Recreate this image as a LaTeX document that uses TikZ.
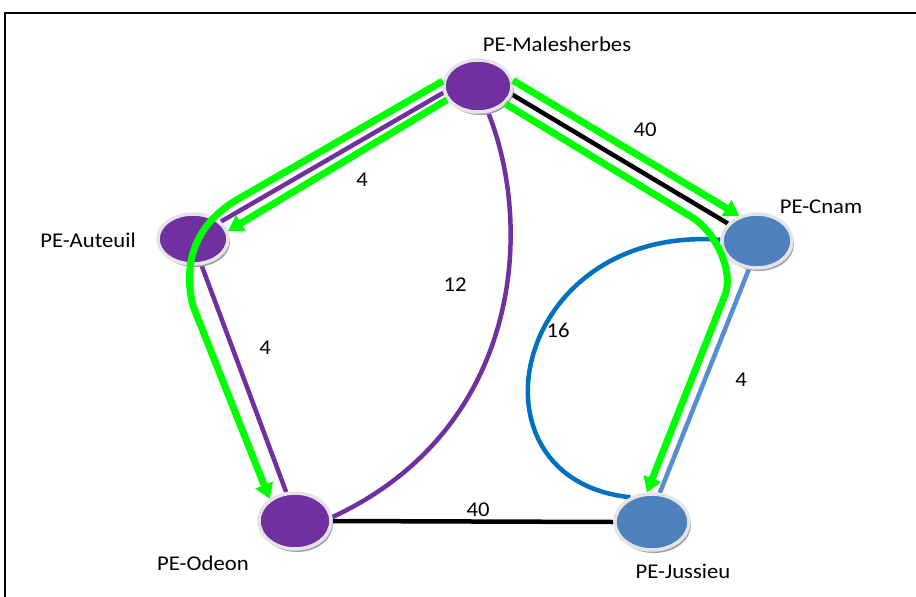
\documentclass[tikz,border=0pt]{standalone}
\usepackage{fontspec}
\setmainfont{Carlito}[FakeStretch=1.08]
\usetikzlibrary{shapes.geometric,arrows.meta,shadows}
\pgfdeclarelayer{edges}
\pgfsetlayers{edges,main}
\definecolor{pepurple}{HTML}{7030A0}
\definecolor{peblue}{HTML}{4F81BD}
\definecolor{pathgreen}{HTML}{00FF00}
\definecolor{arcblue}{HTML}{0070C0}
\definecolor{linkblue}{HTML}{558ED5}
\definecolor{shadowgray}{HTML}{9AA2B0}
\definecolor{rimgray}{HTML}{E4E4E8}
\tikzset{
  pe/.style={ellipse, draw=rimgray, line width=3.5pt, inner sep=0pt,
    minimum width=68pt, minimum height=52pt,
    drop shadow={shadow xshift=2pt, shadow yshift=-3pt, fill=shadowgray, opacity=1}},
  pepl/.style={pe, fill=pepurple},
  pebl/.style={pe, fill=peblue},
  pelabel/.style={font=\fontsize{21}{25}\selectfont, text=black},
  cost/.style={font=\fontsize{21}{25}\selectfont, text=black},
  link/.style={line width=4.5pt},
  route/.style={draw=pathgreen, line width=7pt,
    -{Triangle[length=15pt,width=18pt]}},
}
\begin{document}
\begin{tikzpicture}[x=1pt,y=-1pt]
\useasboundingbox (0,0) rectangle (916,597);

% routers
\node[pepl] (ms) at (478,86) {};
\node[pepl, minimum width=70pt, minimum height=50pt] (au) at (193,239) {};
\node[pebl, minimum width=70pt, minimum height=54pt] (cn) at (757,241) {};
\node[pepl, minimum width=72pt, minimum height=56pt] (od) at (295,521) {};
\node[pebl, minimum width=74pt, minimum height=56pt] (ju) at (652,522) {};

% router names
\node[pelabel] (nms) at (557,44) {PE-Malesherbes};
\node[pelabel] (nau) at (88,240) {PE-Auteuil};
\node[pelabel] (ncn) at (821,207) {PE-Cnam};
\node[pelabel] (nod) at (203,563) {PE-Odeon};
\node[pelabel] (nju) at (683,571) {PE-Jussieu};

% page, frame and links, all beneath the routers
\begin{pgfonlayer}{edges}
\fill[white] (0,0) rectangle (916,597);
\draw[line width=2pt] (5,597) -- (5,13) -- (916,13);
\draw[link, pepurple] (ms.191) -- (au.32);
\draw[link, pepurple] (au.288) -- (od.107);
\draw[link, pepurple] (ms.291) .. controls (535,230) and (520,430) .. (od.6);
\draw[link, black] (ms.346) -- (cn.149);
\draw[link, linkblue] (cn.254) -- (ju.75);
\draw[link, arcblue] (cn.178) .. controls (510,225) and (460,480) .. (ju.131);
\draw[link, black] (od.east) -- (ju.west);
\end{pgfonlayer}

% link costs
\node[cost] (c1) at (362,180) {4};
\node[cost] (c2) at (265,348) {4};
\node[cost] (c3) at (455,285) {12};
\node[cost] (c4) at (645,130) {40};
\node[cost] (c5) at (558,330) {16};
\node[cost] (c6) at (741,380) {4};
\node[cost] (c7) at (478,510) {40};

% routed paths
\draw[route] (ms.204) -- (au.13);
\draw[route] (ms.172) -- (240,198) .. controls (200,220) and (181,258) .. (193,306) -- (od.139);
\draw[route] (ms.9) -- (cn.125);
\draw[route] (ms.327) -- (690,216) .. controls (716,231) and (734,272) .. (725,295) -- (ju.100);
\end{tikzpicture}
\end{document}
